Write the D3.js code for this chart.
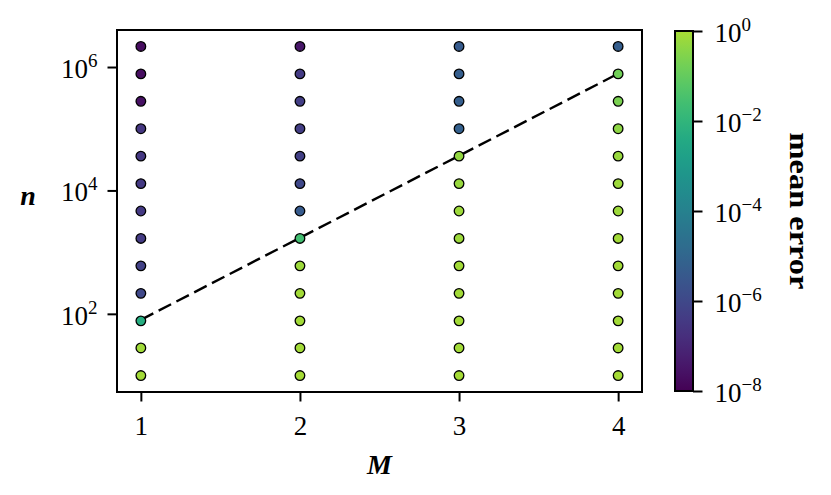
<!DOCTYPE html>
<html>
<head>
<meta charset="utf-8">
<script src="https://cdn.jsdelivr.net/npm/d3@7"></script>
<style>
  body { margin: 0; background: #fff; }
  text { font-family: "Liberation Serif", "DejaVu Serif", serif; fill: #000; }
</style>
</head>
<body>
<svg id="chart" width="831" height="495"></svg>
<script>
// data
const mValues = [1, 2, 3, 4];
const nValues = [10, 28, 77, 215, 599, 1668, 4642, 12915, 35938, 100000, 278256, 774264, 2154435];
// mean error per point, bottom (n = 10) to top, one list per M
const errM1 = [0.85, 0.75, 5e-3, 1e-6, 6e-7, 4e-7, 3.5e-7, 3.5e-7, 3e-7, 2.8e-7, 2.5e-8, 2.2e-8, 2e-8];
const errM2 = [0.9, 0.85, 0.8, 0.8, 0.7, 2.5e-2, 4e-6, 1e-6, 5e-7, 4.5e-7, 4.5e-7, 4e-7, 3.5e-8];
const errM3 = [0.9, 0.85, 0.85, 0.8, 0.8, 0.7, 0.7, 0.6, 0.5, 6e-6, 5e-6, 5e-6, 4e-6];
const errM4 = [0.9, 0.85, 0.85, 0.85, 0.8, 0.8, 0.7, 0.7, 0.6, 0.43, 0.23, 0.16, 5e-6];
const errors = [errM1, errM2, errM3, errM4];
const fitLine = [[1, 80], [4, 780000]];
const yTicks = [1e2, 1e4, 1e6];
const cbTicks = [1e-8, 1e-6, 1e-4, 1e-2, 1e0];

const svg = d3.select("#chart");
const plot = {left: 117, right: 642, top: 30, bottom: 392};
const cb = {left: 675, right: 693, top: 31, bottom: 391};
const fontSize = 27, supSize = 19;

// colormap: viridis cut short of its yellow end
const cmap = t => d3.interpolateViridis(0.87 * t);

// 5% margins like matplotlib
const xPad = (d3.max(mValues) - d3.min(mValues)) * 0.05;
const x = d3.scaleLinear()
    .domain([d3.min(mValues) - xPad, d3.max(mValues) + xPad])
    .range([plot.left, plot.right]);

const lo = Math.log10(d3.min(nValues)), hi = Math.log10(d3.max(nValues));
const yPad = (hi - lo) * 0.05;
const y = d3.scaleLog()
    .domain([Math.pow(10, lo - yPad), Math.pow(10, hi + yPad)])
    .range([plot.bottom, plot.top]);

const color = d3.scaleSequentialLog(cmap).domain([1e-8, 1]);

const points = [];
mValues.forEach((m, i) => {
  nValues.forEach((n, k) => points.push({m: m, n: n, err: errors[i][k]}));
});

// power-of-ten label with superscript
function powLabel(sel) {
  sel.each(function(d) {
    const e = Math.round(Math.log10(d));
    const t = d3.select(this).text(null);
    t.append("tspan").text("10");
    t.append("tspan")
        .attr("dy", -11)
        .attr("font-size", supSize)
        .text(e < 0 ? "\u2212" + (-e) : e);
  });
}

// x axis
const xAxis = svg.append("g")
    .attr("transform", `translate(0,${plot.bottom})`)
    .call(d3.axisBottom(x).tickValues(mValues).tickSize(9.5).tickFormat(d3.format("d")));
xAxis.select(".domain").remove();
xAxis.selectAll("line").attr("stroke-width", 2);
xAxis.selectAll("text")
    .attr("y", 43).attr("dy", null)
    .attr("font-size", fontSize);

// y axis
const yAxis = svg.append("g")
    .attr("transform", `translate(${plot.left},0)`)
    .call(d3.axisLeft(y).tickValues(yTicks).tickSize(9.5).tickPadding(10));
yAxis.select(".domain").remove();
yAxis.selectAll("line").attr("stroke-width", 2);
yAxis.selectAll("text")
    .attr("font-size", fontSize)
    .attr("dy", "0.38em")
    .call(powLabel);

// fit line
svg.append("path")
    .datum(fitLine)
    .attr("fill", "none")
    .attr("stroke", "#000")
    .attr("stroke-width", 2.4)
    .attr("stroke-dasharray", "14,6")
    .attr("d", d3.line().x(d => x(d[0])).y(d => y(d[1])));

// points
svg.append("g")
  .selectAll("circle")
  .data(points)
  .join("circle")
    .attr("cx", d => x(d.m))
    .attr("cy", d => y(d.n))
    .attr("r", 4.8)
    .attr("fill", d => color(d.err))
    .attr("stroke", "#000")
    .attr("stroke-width", 1.3);

// frame
svg.append("rect")
    .attr("x", plot.left).attr("y", plot.top)
    .attr("width", plot.right - plot.left)
    .attr("height", plot.bottom - plot.top)
    .attr("fill", "none")
    .attr("stroke", "#000")
    .attr("stroke-width", 2);

// axis labels
svg.append("text")
    .attr("x", x((d3.min(mValues) + d3.max(mValues)) / 2))
    .attr("y", 474)
    .attr("text-anchor", "middle")
    .attr("font-size", 28)
    .attr("font-weight", "bold")
    .attr("font-style", "italic")
    .text("M");

svg.append("text")
    .attr("x", 28)
    .attr("y", 205)
    .attr("text-anchor", "middle")
    .attr("font-size", 28)
    .attr("font-weight", "bold")
    .attr("font-style", "italic")
    .text("n");

// colorbar
const grad = svg.append("defs").append("linearGradient")
    .attr("id", "viridis")
    .attr("x1", 0).attr("y1", 1).attr("x2", 0).attr("y2", 0);
grad.selectAll("stop")
  .data(d3.range(0, 1.0001, 0.05))
  .join("stop")
    .attr("offset", d => d)
    .attr("stop-color", d => cmap(d));

svg.append("rect")
    .attr("x", cb.left).attr("y", cb.top)
    .attr("width", cb.right - cb.left)
    .attr("height", cb.bottom - cb.top)
    .attr("fill", "url(#viridis)")
    .attr("stroke", "#000")
    .attr("stroke-width", 2);

const cbScale = d3.scaleLog().domain(color.domain()).range([cb.bottom, cb.top]);
const cbAxis = svg.append("g")
    .attr("transform", `translate(${cb.right},0)`)
    .call(d3.axisRight(cbScale).tickValues(cbTicks).tickSize(9.5).tickPadding(12));
cbAxis.select(".domain").remove();
cbAxis.selectAll("line").attr("stroke-width", 2);
cbAxis.selectAll("text")
    .attr("font-size", fontSize)
    .attr("dy", "0.38em")
    .call(powLabel);

svg.append("text")
    .attr("transform", `translate(790,${(cb.top + cb.bottom) / 2}) rotate(90)`)
    .attr("text-anchor", "middle")
    .attr("font-size", 27)
    .attr("font-weight", "bold")
    .attr("textLength", 157)
    .attr("lengthAdjust", "spacingAndGlyphs")
    .text("mean error");
</script>
</body>
</html>
